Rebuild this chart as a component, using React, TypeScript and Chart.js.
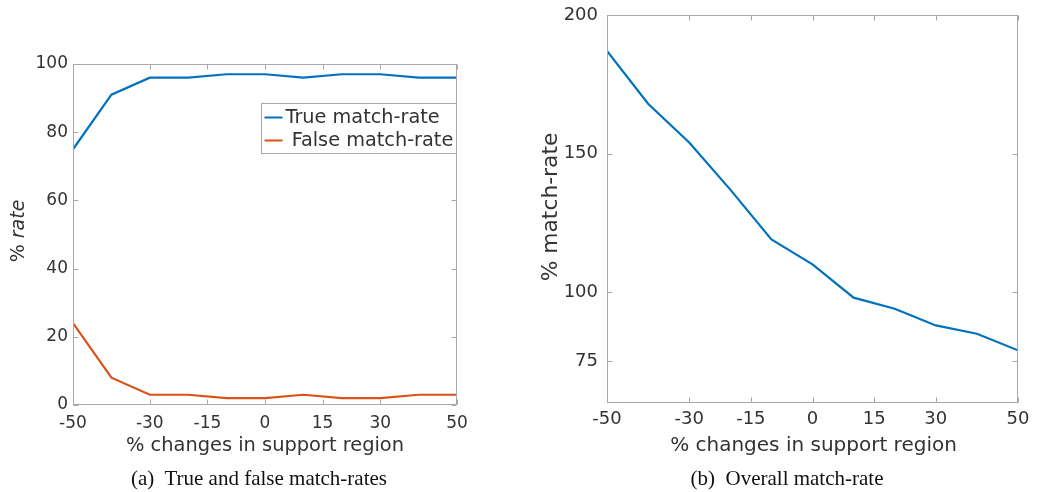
import React, { useEffect, useRef } from "react";
import { Chart, registerables } from "chart.js";

Chart.register(...registerables);

// ---- data ----
const xValues = [-50, -40, -30, -20, -10, 0, 10, 20, 30, 40, 50];
const xTickValues = [-50, -30, -15, 0, 15, 30, 50];
const trueMatchRate = [75, 91, 96, 96, 97, 97, 96, 97, 97, 96, 96];
const falseMatchRate = [24, 8, 3, 3, 2, 2, 3, 2, 2, 3, 3];
const overallMatchRate = [187, 168, 154, 137, 119, 110, 98, 94, 88, 85, 79];
const leftYTicks = [0, 20, 40, 60, 80, 100];
const rightYTicks = [75, 100, 150, 200];
const seriesLabels = ["True match-rate", " False match-rate", "Overall match-rate"];
const xAxisTitle = "% changes in support region";
const captionA = "(a)  True and false match-rates";
const captionB = "(b)  Overall match-rate";

const BLUE = "#0072BD";
const ORANGE = "#D95319";
const TEXT = "#333333";
const FRAME = "#a8a8a8";
const FONT = "'DejaVu Sans', sans-serif";

type PanelOpts = {
  datasets: { label: string; values: number[]; color: string }[];
  yMin: number;
  yMax: number;
  yTicks: number[];
  yTitle: { normal: string; italic: string };
  yTitlePos: [number, number];
  yTitleSize: number;
  xTitlePos: [number, number];
  xTitleSize: number;
  tickSize: number;
  xTickPad: number;
  yTickPad: number;
  padding: { left: number; right: number; top: number; bottom: number };
  yWidth: number;
  xHeight: number;
  legend: boolean;
};

const framePlugin = (o: PanelOpts) => ({
  id: "frameAndTitles",
  afterDatasetsDraw(chart: any) {
    const { ctx, chartArea: ca, scales } = chart;
    ctx.save();
    // box
    ctx.strokeStyle = FRAME;
    ctx.lineWidth = 1;
    const l = Math.round(ca.left) + 0.5;
    const r = Math.round(ca.right) - 0.5;
    const t = Math.round(ca.top) + 0.5;
    const b = Math.round(ca.bottom) - 0.5;
    ctx.strokeRect(l, t, r - l, b - t);
    // inward ticks
    const tl = 5;
    ctx.beginPath();
    for (const v of xTickValues) {
      const x = Math.round(scales.x.getPixelForValue(v)) + 0.5;
      ctx.moveTo(x, b);
      ctx.lineTo(x, b - tl);
      ctx.moveTo(x, t);
      ctx.lineTo(x, t + tl);
    }
    for (const v of o.yTicks) {
      const y = Math.round(scales.y.getPixelForValue(v)) + 0.5;
      ctx.moveTo(l, y);
      ctx.lineTo(l + tl, y);
      ctx.moveTo(r, y);
      ctx.lineTo(r - tl, y);
    }
    ctx.stroke();

    // x title
    ctx.fillStyle = TEXT;
    ctx.font = `${o.xTitleSize}px ${FONT}`;
    ctx.textAlign = "center";
    ctx.textBaseline = "middle";
    ctx.fillText(xAxisTitle, o.xTitlePos[0], o.xTitlePos[1]);

    // y title (rotated, mixed styles)
    ctx.save();
    ctx.translate(o.yTitlePos[0], o.yTitlePos[1]);
    ctx.rotate(-Math.PI / 2);
    ctx.textAlign = "left";
    const nFont = `${o.yTitleSize}px ${FONT}`;
    const iFont = `italic ${o.yTitleSize}px ${FONT}`;
    ctx.font = nFont;
    const w1 = ctx.measureText(o.yTitle.normal).width;
    ctx.font = iFont;
    const w2 = ctx.measureText(o.yTitle.italic).width;
    const start = -(w1 + w2) / 2;
    ctx.font = nFont;
    ctx.fillText(o.yTitle.normal, start, 0);
    ctx.font = iFont;
    ctx.fillText(o.yTitle.italic, start + w1, 0);
    ctx.restore();

    // legend
    if (o.legend) {
      const bw = 195;
      const bh = 50;
      const bx = Math.round(ca.right) - bw - 0.5;
      const by = Math.round(ca.top) + 39.5;
      ctx.fillStyle = "#ffffff";
      ctx.fillRect(bx, by, bw, bh);
      ctx.strokeStyle = FRAME;
      ctx.lineWidth = 1;
      ctx.strokeRect(bx, by, bw, bh);
      ctx.font = `19.3px ${FONT}`;
      ctx.textAlign = "left";
      ctx.textBaseline = "middle";
      chart.data.datasets.forEach((ds: any, i: number) => {
        const cy = by + 14 + i * 23;
        ctx.strokeStyle = ds.borderColor;
        ctx.lineWidth = 2;
        ctx.beginPath();
        ctx.moveTo(bx + 3, cy);
        ctx.lineTo(bx + 21, cy);
        ctx.stroke();
        ctx.fillStyle = TEXT;
        ctx.fillText(ds.label, bx + 24, cy);
      });
    }
    ctx.restore();
  },
});

function Panel(props: { opts: PanelOpts; width: number; height: number; left: number }) {
  const ref = useRef<HTMLCanvasElement | null>(null);
  const { opts, width, height, left } = props;
  useEffect(() => {
    if (!ref.current) return;
    const chart = new Chart(ref.current, {
      type: "line",
      data: {
        datasets: opts.datasets.map((d) => ({
          label: d.label,
          data: xValues.map((x, i) => ({ x, y: d.values[i] })),
          borderColor: d.color,
          backgroundColor: d.color,
          borderWidth: 2.2,
          pointRadius: 0,
          tension: 0,
          fill: false,
        })),
      },
      options: {
        responsive: false,
        animation: false,
        layout: { padding: opts.padding },
        plugins: { legend: { display: false }, tooltip: { enabled: false } },
        scales: {
          x: {
            type: "linear",
            min: -50,
            max: 50,
            afterBuildTicks: (s: any) => {
              s.ticks = xTickValues.map((v) => ({ value: v }));
            },
            afterFit: (s: any) => {
              s.height = opts.xHeight;
            },
            grid: { display: false, drawTicks: false, tickLength: 0 },
            border: { display: false },
            ticks: {
              color: TEXT,
              font: { family: FONT, size: opts.tickSize },
              padding: opts.xTickPad,
              maxRotation: 0,
              autoSkip: false,
            },
          },
          y: {
            type: "linear",
            min: opts.yMin,
            max: opts.yMax,
            afterBuildTicks: (s: any) => {
              s.ticks = opts.yTicks.map((v) => ({ value: v }));
            },
            afterFit: (s: any) => {
              s.width = opts.yWidth;
            },
            grid: { display: false, drawTicks: false, tickLength: 0 },
            border: { display: false },
            ticks: {
              color: TEXT,
              font: { family: FONT, size: opts.tickSize, lineHeight: 0.5 },
              padding: opts.yTickPad,
              autoSkip: false,
            },
          },
        },
      },
      plugins: [framePlugin(opts)],
    } as any);
    return () => chart.destroy();
  }, []);
  return (
    <canvas
      ref={ref}
      width={width}
      height={height}
      style={{ position: "absolute", left, top: 0, width, height }}
    />
  );
}

const leftOpts: PanelOpts = {
  datasets: [
    { label: seriesLabels[0], values: trueMatchRate, color: BLUE },
    { label: seriesLabels[1], values: falseMatchRate, color: ORANGE },
  ],
  yMin: 0,
  yMax: 100,
  yTicks: leftYTicks,
  yTitle: { normal: "% ", italic: "rate" },
  yTitlePos: [19, 231],
  yTitleSize: 19,
  xTitlePos: [265, 446],
  xTitleSize: 19.4,
  tickSize: 17,
  xTickPad: 8,
  yTickPad: 5,
  padding: { left: 0, right: 43, top: 64, bottom: 0 },
  yWidth: 73,
  xHeight: 65,
  legend: true,
};

const rightOpts: PanelOpts = {
  datasets: [{ label: seriesLabels[2], values: overallMatchRate, color: BLUE }],
  yMin: 60,
  yMax: 200,
  yTicks: rightYTicks,
  yTitle: { normal: "% match-rate", italic: "" },
  yTitlePos: [31, 207],
  yTitleSize: 21.8,
  xTitlePos: [293.5, 446],
  xTitleSize: 20,
  tickSize: 18,
  xTickPad: 6,
  yTickPad: 9,
  padding: { left: 0, right: 20, top: 15, bottom: 0 },
  yWidth: 87,
  xHeight: 67,
  legend: false,
};

const captionStyle: React.CSSProperties = {
  position: "absolute",
  top: 466,
  fontFamily: "'Liberation Serif', 'Times New Roman', serif",
  fontSize: 21,
  lineHeight: "24px",
  color: "#111",
  whiteSpace: "pre",
  transform: "translateX(-50%)",
};

export default function App() {
  return (
    <div
      style={{
        position: "absolute",
        left: 0,
        top: 0,
        width: 1038,
        height: 492,
        background: "#fff",
        overflow: "hidden",
      }}
    >
      <Panel opts={leftOpts} width={500} height={470} left={0} />
      <Panel opts={rightOpts} width={518} height={470} left={520} />
      <div style={{ ...captionStyle, left: 259 }}>{captionA}</div>
      <div style={{ ...captionStyle, left: 787 }}>{captionB}</div>
    </div>
  );
}
